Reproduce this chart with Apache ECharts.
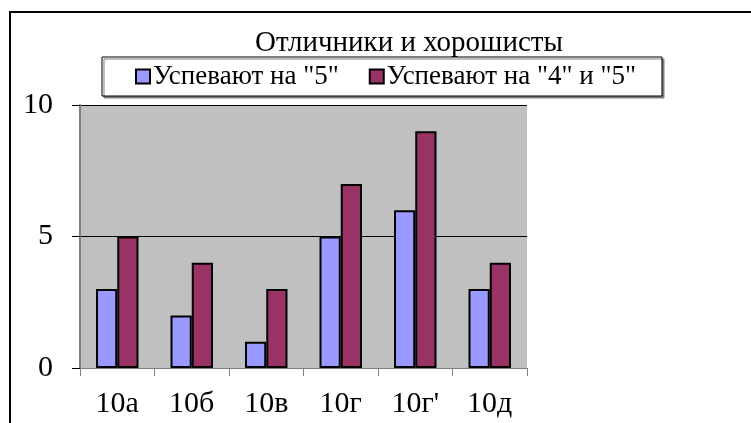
<!DOCTYPE html>
<html>
<head>
<meta charset="utf-8">
<script src="https://cdn.jsdelivr.net/npm/echarts@6/dist/echarts.min.js"></script>
<style>html,body{margin:0;padding:0;background:#fff}#c{width:751px;height:423px}</style>
</head>
<body>
<div id="c"></div>
<script>
var titleText = 'Отличники и хорошисты';
var categories = ['10а', '10б', '10в', '10г', "10г'", '10д'];
var seriesNames = ['Успевают на "5"', 'Успевают на "4" и "5"'];
var excellent = [3, 2, 1, 5, 6, 3];
var good = [5, 4, 3, 7, 9, 4];
var yTicks = [0, 5, 10];

var FONT = 'Liberation Serif';
var chart = echarts.init(document.getElementById('c'), null, {renderer: 'canvas'});
chart.setOption({
  animation: false,
  backgroundColor: '#fff',
  textStyle: {fontFamily: FONT},
  graphic: [{
    type: 'rect', z: 0,
    shape: {x: 10, y: 12, width: 800, height: 500},
    style: {fill: 'none', stroke: '#000', lineWidth: 2}
  }],
  title: {
    text: titleText, left: 409, top: 29, padding: 0,
    textAlign: 'center',
    textStyle: {fontFamily: FONT, fontSize: 29, fontWeight: 'normal', color: '#000'}
  },
  legend: {
    left: 102, top: 57, z: 10,
    padding: [6, 26, 6, 33],
    backgroundColor: '#fff',
    borderColor: '#000', borderWidth: 1,
    shadowColor: '#808080', shadowOffsetX: 2, shadowOffsetY: 2, shadowBlur: 0,
    itemWidth: 14, itemHeight: 14, itemGap: 30,
    icon: 'rect',
    textStyle: {fontFamily: FONT, fontWeight: 'normal', fontSize: 27, color: '#000', padding: [0, 0, 0, -2]},
    data: seriesNames
  },
  grid: {left: 80, right: 224, top: 105, bottom: 55, show: true, backgroundColor: '#c0c0c0', borderWidth: 0},
  xAxis: {
    type: 'category', data: categories,
    axisLine: {lineStyle: {color: '#808080', width: 1}},
    axisTick: {show: true, alignWithLabel: false, interval: 0, length: 8, lineStyle: {color: '#808080'}},
    axisLabel: {fontFamily: FONT, fontWeight: 'normal', fontSize: 30, color: '#000', margin: 21, interval: 0}
  },
  yAxis: {
    type: 'value', min: 0, max: 10, interval: 5,
    axisLine: {show: true, lineStyle: {color: '#808080', width: 2}},
    axisTick: {show: true, length: 8, lineStyle: {color: '#000'}},
    splitLine: {lineStyle: {color: '#000', width: 1}},
    axisLabel: {fontFamily: FONT, fontWeight: 'normal', fontSize: 30, color: '#000', margin: 27,
      formatter: function (v) { return yTicks.indexOf(v) >= 0 ? String(v) : ''; }}
  },
  series: [{
    name: seriesNames[0], type: 'bar', data: excellent,
    barGap: '0%', barCategoryGap: '43%',
    itemStyle: {color: '#9999ff', borderColor: '#000', borderWidth: 2}
  }, {
    name: seriesNames[1], type: 'bar', data: good,
    barGap: '0%', barCategoryGap: '43%',
    itemStyle: {color: '#993366', borderColor: '#000', borderWidth: 2}
  }]
});
</script>
</body>
</html>
